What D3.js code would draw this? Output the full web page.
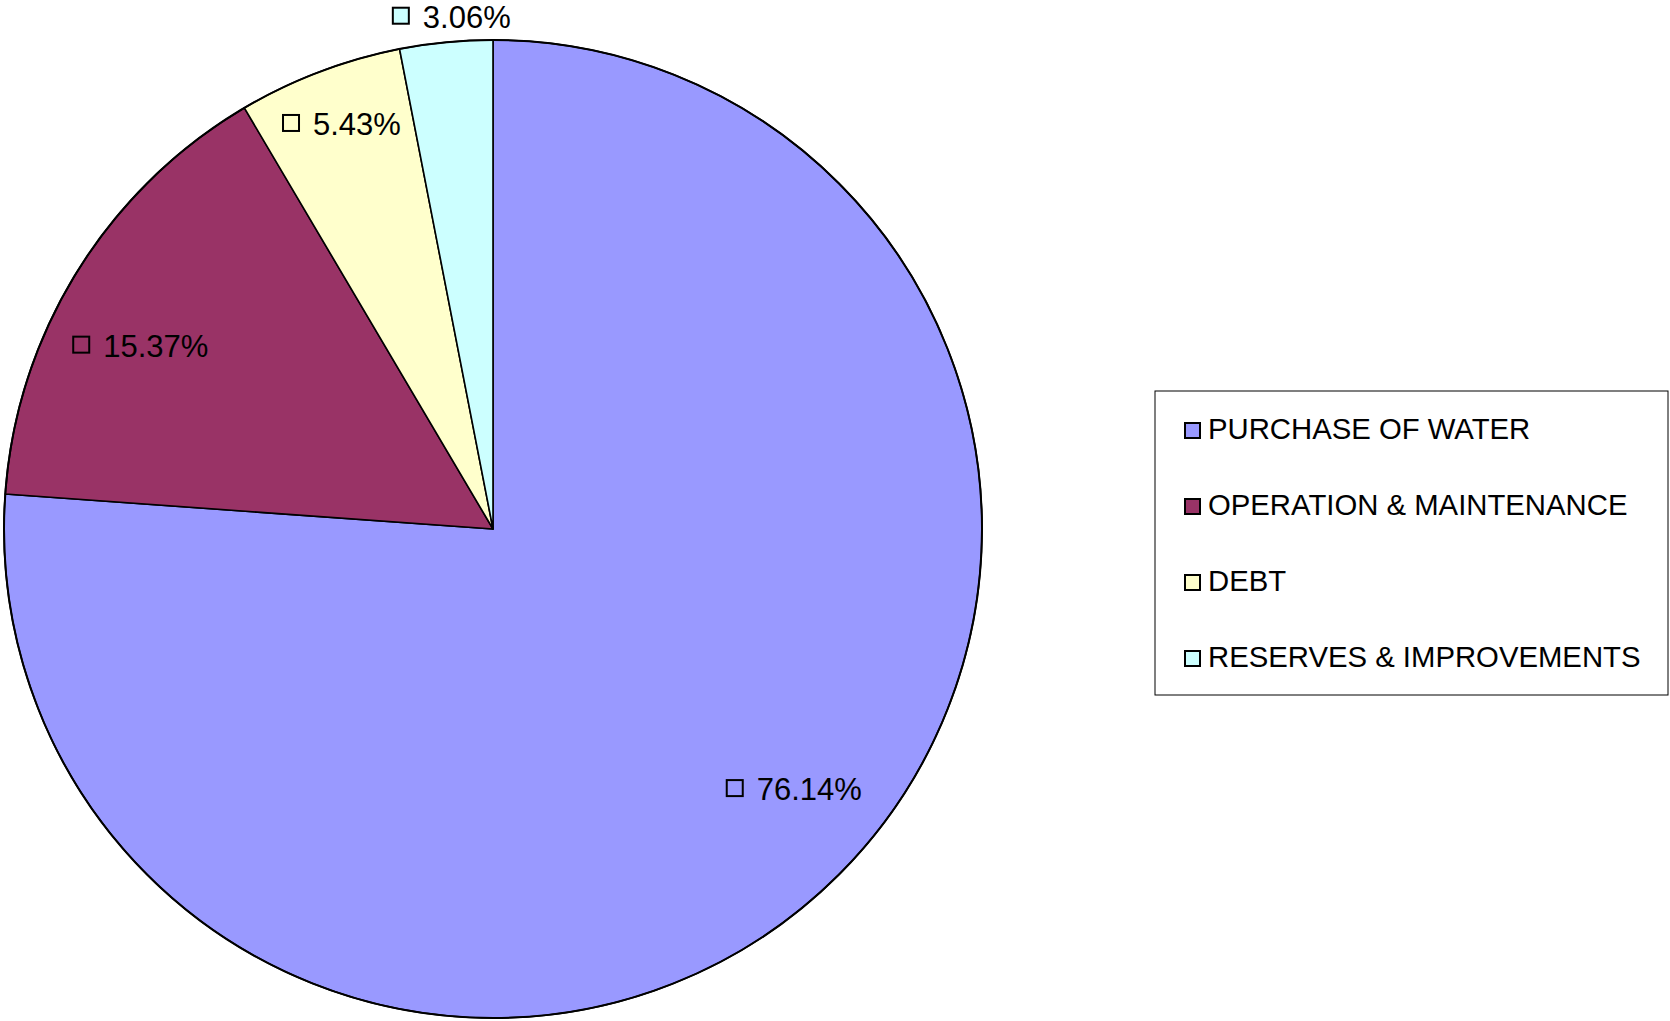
<!DOCTYPE html>
<html>
<head>
<meta charset="utf-8">
<script src="https://cdn.jsdelivr.net/npm/d3@7"></script>
<style>
  body { margin: 0; background: #fff; }
  text { font-family: "Liberation Sans", Arial, sans-serif; fill: #000; }
</style>
</head>
<body>
<svg id="chart" width="1670" height="1021"></svg>
<script>
const categories = ["PURCHASE OF WATER", "OPERATION & MAINTENANCE", "DEBT", "RESERVES & IMPROVEMENTS"];
const values = [76.14, 15.37, 5.43, 3.06];
const colors = ["#9999FF", "#993366", "#FFFFCC", "#CCFFFF"];

const svg = d3.select("#chart");
const cx = 493;
const cy = 529;
const radius = 489;

// label placement (radius factor, angle in degrees from 12 o'clock) - mimics excel best fit
const labelLayout = [
  { r: 0.814, angle: 130.8 },
  { r: 0.812, angle: 297.5 },
  { r: 0.884, angle: 339.55 },
  { r: 1.051, angle: 355.4 }
];

const pie = d3.pie().sort(null).value((d) => d);
const arcs = pie(values);
const arc = d3.arc().innerRadius(0).outerRadius(radius);

const g = svg.append("g").attr("transform", "translate(" + cx + "," + cy + ")");

g.selectAll("path.slice")
  .data(arcs)
  .join("path")
  .attr("class", "slice")
  .attr("d", arc)
  .attr("fill", (d, i) => colors[i])
  .attr("stroke", "#000")
  .attr("stroke-width", 1.6)
  .attr("stroke-linejoin", "round");

g.append("circle")
  .attr("r", radius)
  .attr("fill", "none")
  .attr("stroke", "#000")
  .attr("stroke-width", 2);

// data labels
const labels = g.selectAll("g.label")
  .data(arcs)
  .join("g")
  .attr("class", "label");

labels.each(function (d, i) {
  const sel = d3.select(this);
  const lay = labelLayout[i];
  const a = (lay.angle * Math.PI) / 180;
  const x = Math.sin(a) * radius * lay.r;
  const y = -Math.cos(a) * radius * lay.r;
  const txt = sel.append("text")
    .attr("font-size", 31)
    .text(values[i].toFixed(2) + "%");
  const tw = txt.node().getComputedTextLength();
  const box = 16;
  const gap = 14;
  const total = box + gap + tw;
  const left = x - total / 2;
  sel.insert("rect", "text")
    .attr("x", left)
    .attr("y", y - box / 2 - 1)
    .attr("width", box)
    .attr("height", box)
    .attr("fill", colors[i])
    .attr("stroke", "#000")
    .attr("stroke-width", 2);
  txt.attr("x", left + box + gap).attr("y", y + 11);
});

// legend
const legend = svg.append("g").attr("transform", "translate(1155,391)");
legend.append("rect")
  .attr("width", 513)
  .attr("height", 304)
  .attr("fill", "#fff")
  .attr("stroke", "#000")
  .attr("stroke-width", 1);

const rowY = d3.scalePoint().domain(categories).range([48, 276]);

const items = legend.selectAll("g.item")
  .data(categories)
  .join("g")
  .attr("class", "item")
  .attr("transform", (d) => "translate(0," + rowY(d) + ")");

items.append("rect")
  .attr("x", 30)
  .attr("y", -16)
  .attr("width", 15)
  .attr("height", 15)
  .attr("fill", (d, i) => colors[i])
  .attr("stroke", "#000")
  .attr("stroke-width", 2);

items.append("text")
  .attr("x", 53)
  .attr("y", 0)
  .attr("font-size", 29.3)
  .text((d) => d);
</script>
</body>
</html>
